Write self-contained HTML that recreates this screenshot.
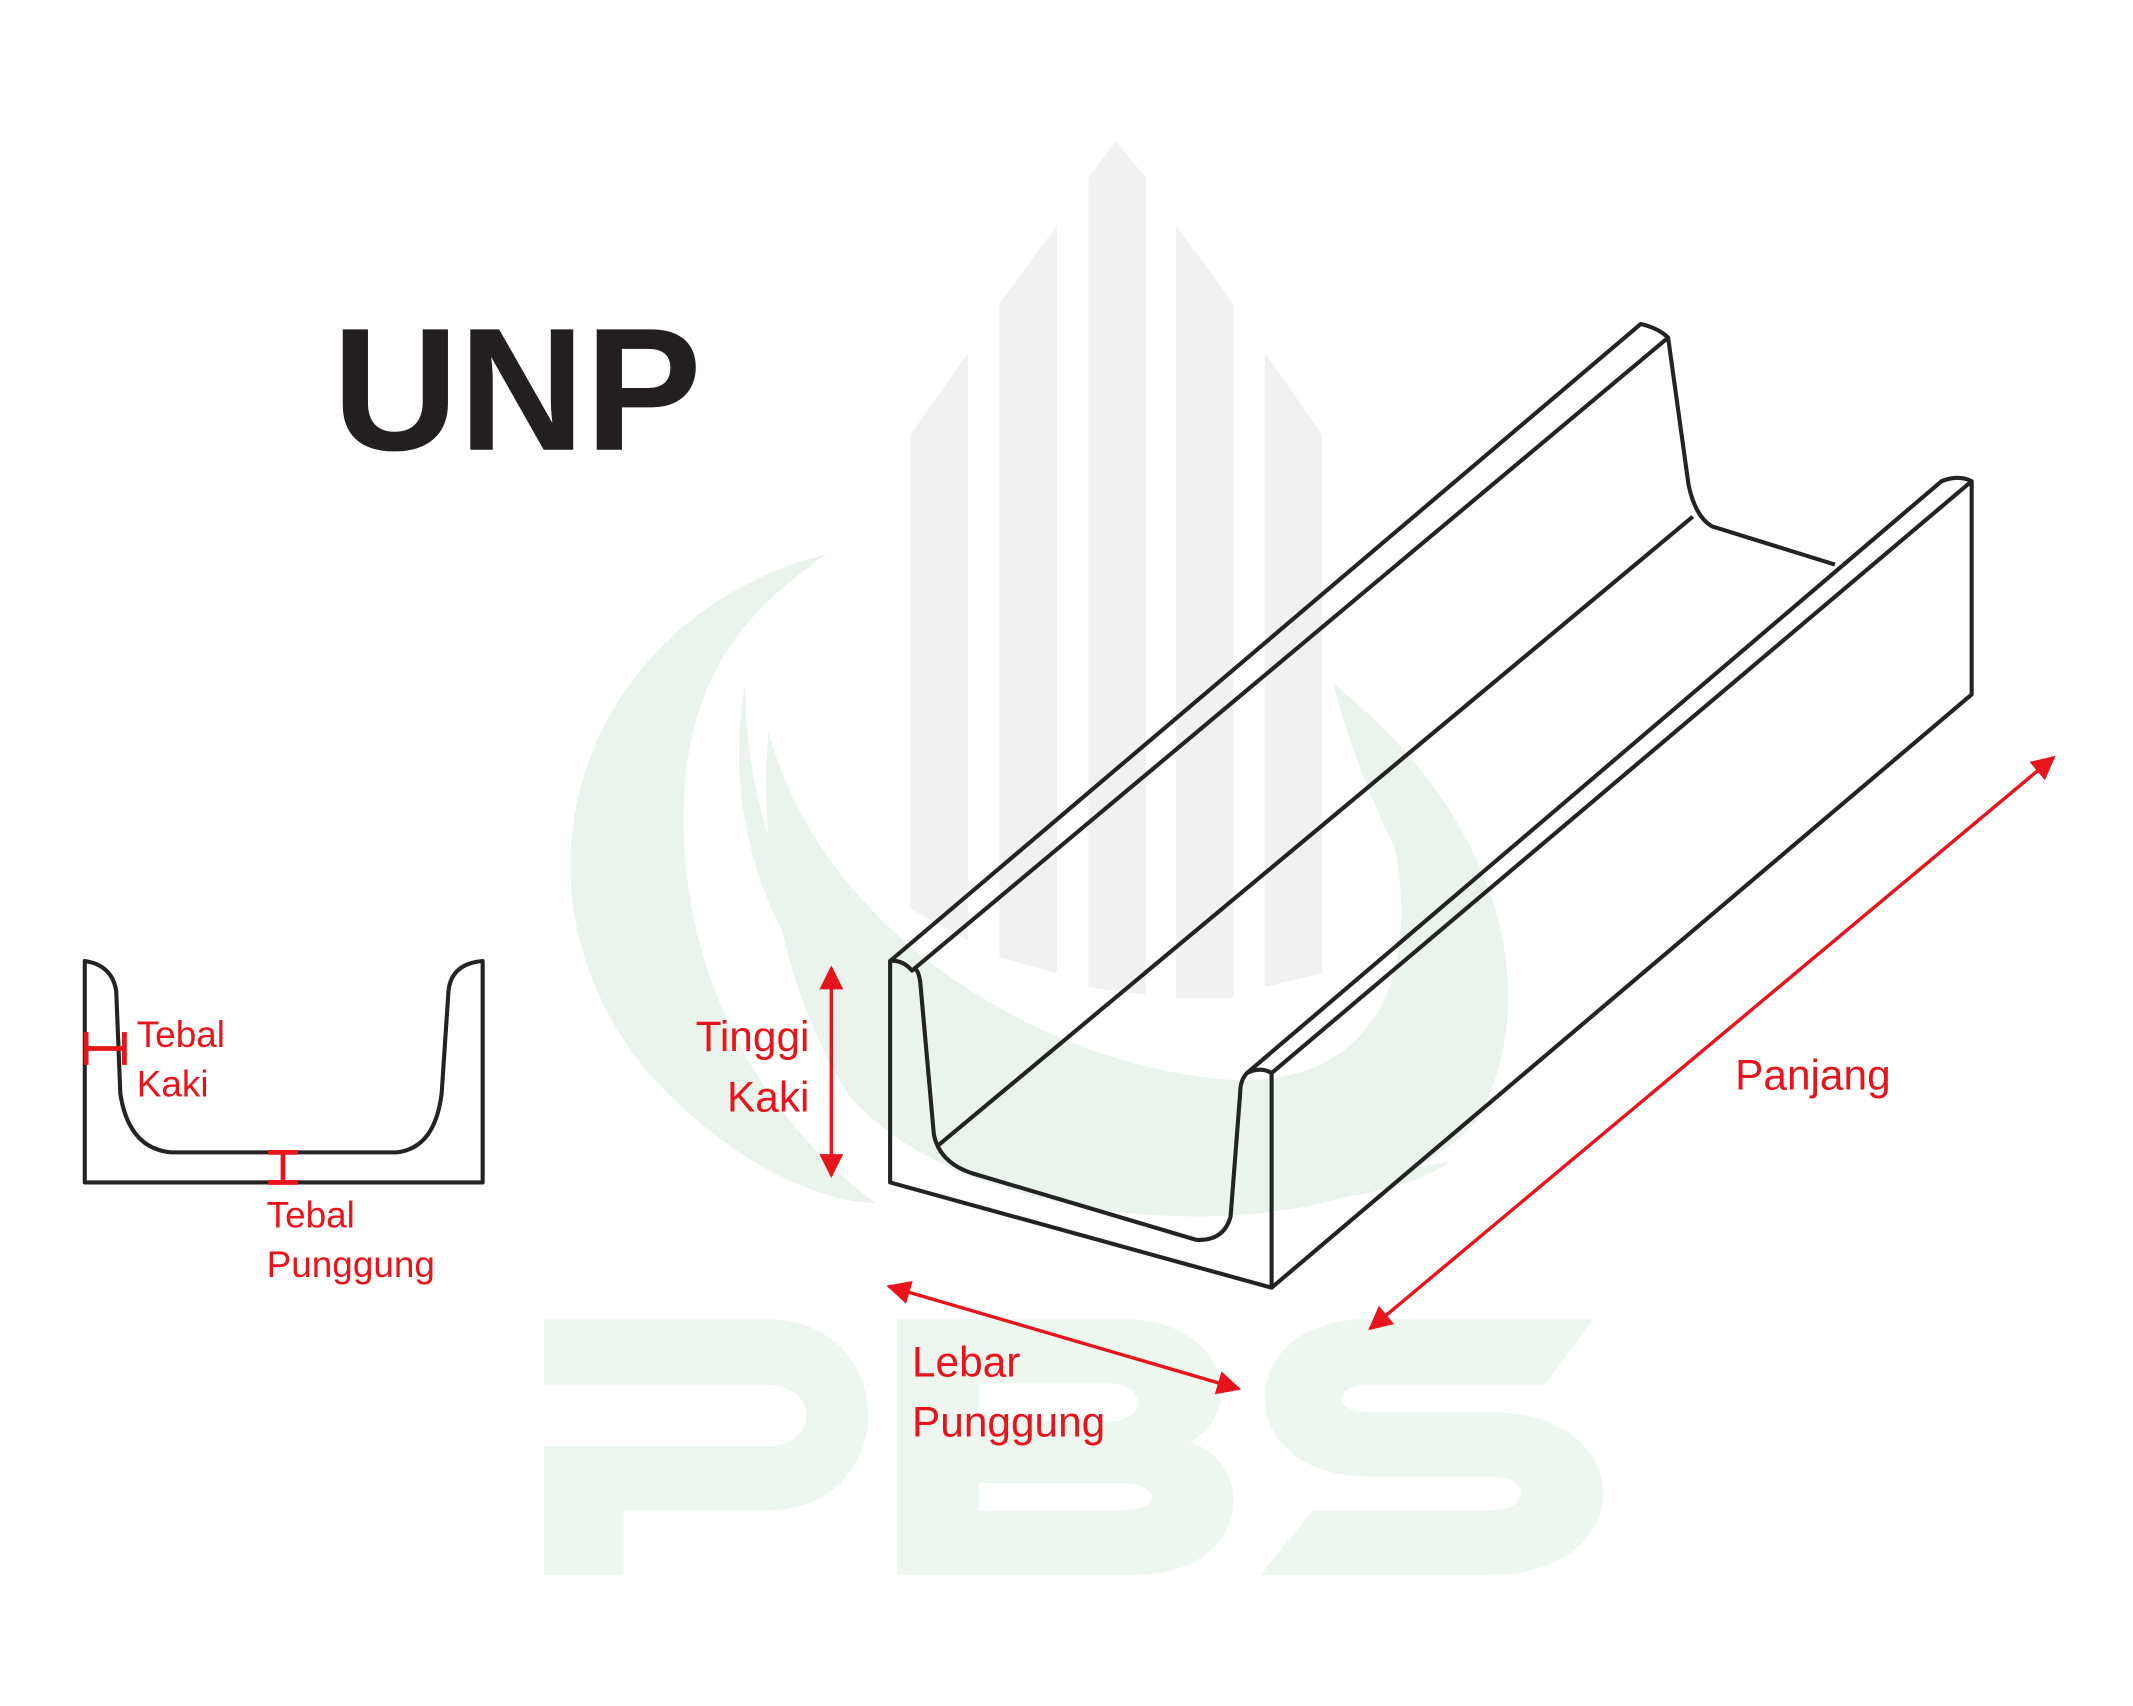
<!DOCTYPE html>
<html><head><meta charset="utf-8"><style>
html,body{margin:0;padding:0;background:#fff;}
svg{display:block;}
</style></head><body>
<svg width="2133" height="1706" viewBox="0 0 1560 1248" preserveAspectRatio="none" xmlns="http://www.w3.org/2000/svg">
<defs>
<marker id="ah" viewBox="0 0 10 10" refX="9" refY="5" markerWidth="7" markerHeight="7" orient="auto-start-reverse">
<path d="M0,0 L10,5 L0,10 z" fill="#e8141b"/></marker>
</defs>
<rect width="1560" height="1248" fill="#fff"/>
<!-- watermark bars -->
<g fill="#f1f1f1">
<polygon points="796,130 816,103 838,130 838,728 796,722"/>
<polygon points="731,222 773,165 773,712 731,700"/>
<polygon points="860,165 902,222 902,730 860,730"/>
<polygon points="666,318 708,258 708,688 666,665"/>
<polygon points="925,258 967,318 967,712 925,722"/>
</g>
<!-- watermark swooshes -->
<g fill="#eaf4ed">
<path d="M605,405 C430,450 360,640 470,780 C540,860 610,880 640,880 C560,820 500,720 500,600 C500,500 540,450 605,405 Z"/>
<path d="M545,500 C520,640 600,780 760,850 C880,900 1020,880 1060,850 C900,880 720,820 620,720 C570,660 545,580 545,500 Z"/>
<path d="M562,535 C600,680 760,780 900,790 C1000,795 1040,720 1020,620 C990,560 975,500 975,500 C1100,600 1130,730 1080,820 C980,930 700,900 620,800 C570,720 555,620 562,535 Z"/>
</g>
<!-- PBS watermark -->
<g fill="#eef6f0">
<path d="M398,1013 L398,1058 L560,1058 C600,1058 600,1013 560,1013 Z M398,1013 L398,965 L560,965 C660,965 660,1105 560,1105 L456,1105 L456,1152 L398,1152 Z"/>
<path d="M656,965 L820,965 C900,965 910,1035 870,1055 C920,1070 915,1152 830,1152 L656,1152 Z M716,1012 L716,1040 L810,1040 C840,1040 840,1012 810,1012 Z M716,1085 L716,1105 L820,1105 C850,1105 850,1085 820,1085 Z"/>
<path d="M1165,965 L1000,965 C900,965 900,1080 1000,1080 L1090,1080 C1120,1080 1120,1105 1090,1105 L960,1105 L922,1152 L1090,1152 C1200,1152 1200,1033 1090,1033 L1000,1033 C975,1033 975,1013 1000,1013 L1130,1013 Z"/>
</g>
<!-- Title -->
<text x="243" y="329" font-family="Liberation Sans, sans-serif" font-weight="bold" font-size="128" fill="#231f20">UNP</text>
<!-- Channel -->
<g fill="none" stroke="#232323" stroke-width="3" stroke-linejoin="round">
<path d="M651,703 L651,865 L930,942 L930,785 Q922,780 912,785 Q907,790 907,800 L900,890 Q895,908 875,907 L710,858 Q687,850 683,830 L673,718 Q671,706 667,710 Q660,702 651,703 Z"/>
<path d="M651,703 L1200,237 Q1213,240 1220,247 L1235,355 Q1240,378 1252,385 L1342,413"/>
<line x1="667" y1="710" x2="1220" y2="247"/>
<line x1="686" y1="838" x2="1238" y2="378"/>
<path d="M912,785 L1420,352 Q1432,347 1442,352 L1442,508 L930,942"/>
<line x1="930" y1="785" x2="1442" y2="352"/>
</g>
<!-- Red arrows -->
<g stroke="#e8141b" stroke-width="2.5" fill="none">
<line x1="608" y1="708" x2="608" y2="860" marker-start="url(#ah)" marker-end="url(#ah)"/>
<line x1="1002" y1="972" x2="1502" y2="554" marker-start="url(#ah)" marker-end="url(#ah)"/>
<line x1="650" y1="941" x2="906" y2="1016" marker-start="url(#ah)" marker-end="url(#ah)"/>
</g>
<g font-family="Liberation Sans, sans-serif" fill="#e8141b" font-size="31">
<text x="592" y="769" text-anchor="end">Tinggi</text>
<text x="592" y="813" text-anchor="end">Kaki</text>
<text x="1269" y="797">Panjang</text>
<text x="667" y="1007">Lebar</text>
<text x="667" y="1051">Punggung</text>
</g>
<!-- cross section -->
<path d="M62,703 L62,865 L353,865 L353,703 Q330,705 328,725 L323,800 Q318,840 290,843 L125,843 Q94,840 88,800 L85,725 Q82,706 62,703 Z" fill="none" stroke="#232323" stroke-width="3" stroke-linejoin="round"/>
<g stroke="#e8141b" stroke-width="3.5">
<line x1="62" y1="767" x2="92" y2="767"/>
<line x1="63" y1="755" x2="63" y2="779"/>
<line x1="91" y1="755" x2="91" y2="779"/>
<line x1="207" y1="843" x2="207" y2="865"/>
<line x1="196" y1="843" x2="218" y2="843"/>
<line x1="196" y1="865" x2="218" y2="865"/>
</g>
<g font-family="Liberation Sans, sans-serif" fill="#e8141b" font-size="27">
<text x="100" y="766">Tebal</text>
<text x="100" y="802">Kaki</text>
<text x="195" y="898">Tebal</text>
<text x="195" y="934">Punggung</text>
</g>
</svg>
</body></html>
